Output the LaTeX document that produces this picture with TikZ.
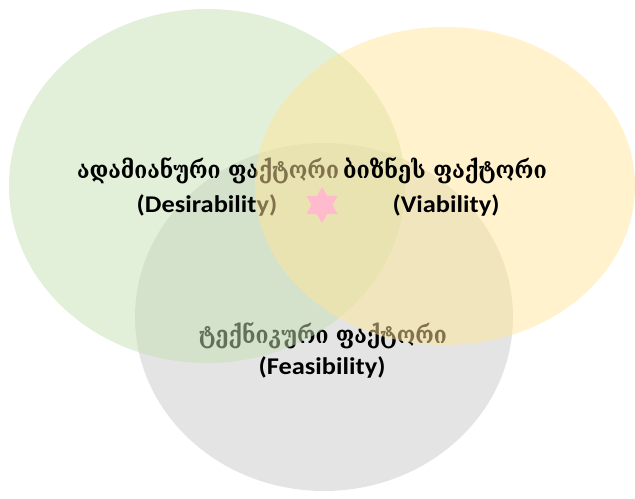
\documentclass[tikz,border=0pt]{standalone}
\usepackage{fontspec}
\setmainfont{Carlito}
\newfontfamily\geo{DejaVu Serif}
\usetikzlibrary{shapes.geometric}
\definecolor{cgreen}{RGB}{197,224,180}
\definecolor{cyellow}{RGB}{255,229,153}
\definecolor{cgray}{RGB}{202,202,202}
\definecolor{cpink}{RGB}{255,186,206}
\tikzset{
  venn/.style={fill opacity=0.5, draw=none},
  geotxt/.style={anchor=base, inner sep=0pt, font=\geo\bfseries\fontsize{18}{21}\selectfont, text=black},
  lattxt/.style={anchor=base, inner sep=0pt, font=\bfseries\fontsize{18}{22}\selectfont, text=black},
}
\begin{document}
\begin{tikzpicture}[x=0.75pt,y=-0.75pt]
\useasboundingbox (0,0) rectangle (635,499);
% gray circle and its text (lowest layer)
\fill[venn, cgray] (324,317) ellipse [x radius=189, y radius=174];
\node[geotxt] (gtech) at (323,343) {\scalebox{0.88}[1]{ტექნიკური ფაქტორი}};
\node[lattxt] (ltech) at (322,374) {\scalebox{1.1}[1]{(Feasibility)}};
% green circle and its text
\fill[venn, cgreen] (207,186) ellipse [x radius=198, y radius=177];
\node[geotxt] (ghum) at (208,179) {\scalebox{0.88}[1]{ადამიანური ფაქტორი}};
\node[lattxt] (lhum) at (207,212) {\scalebox{1.1}[1]{(Desirability)}};
% yellow circle and its text
\fill[venn, cyellow] (445,186) ellipse [x radius=190, y radius=159];
\node[geotxt] (gbiz) at (445,179) {\scalebox{0.9}[1]{ბიზნეს ფაქტორი}};
\node[lattxt] (lbiz) at (446,212) {\scalebox{1.1}[1]{(Viability)}};
% star
\node[star, star points=6, star point ratio=1.73, fill=cpink, draw=none,
      inner sep=0pt, minimum size=27pt] (star) at (322,205) {};
\end{tikzpicture}
\end{document}
